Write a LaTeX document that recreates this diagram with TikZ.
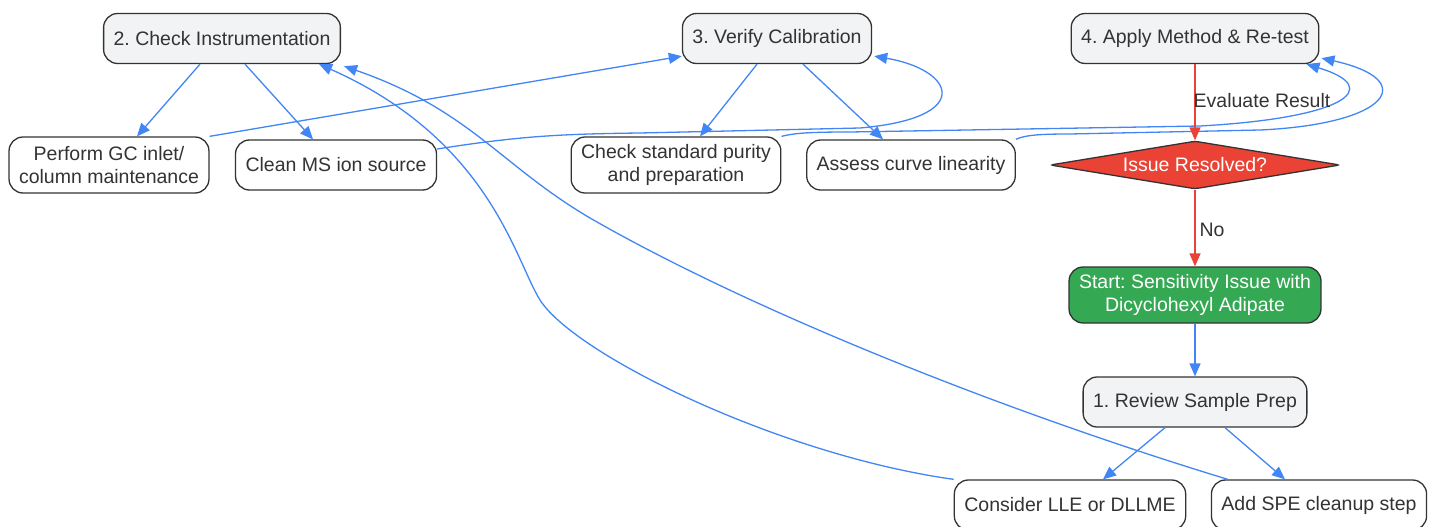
\documentclass[tikz,border=0pt]{standalone}
\usepackage{fontspec}
\setmainfont{Liberation Sans}
\usetikzlibrary{arrows.meta,shapes.geometric}
\definecolor{flowblue}{RGB}{66,133,244}
\definecolor{flowred}{RGB}{234,67,53}
\definecolor{flowgreen}{RGB}{52,168,83}
\definecolor{stepgray}{RGB}{241,243,244}
\definecolor{inkgray}{RGB}{51,51,51}
\frenchspacing

\begin{document}
\begin{tikzpicture}[x=1pt,y=1pt]
    \tikzstyle{every node}+=[font=\fontsize{19.5}{23}\selectfont, text=inkgray]
    \tikzstyle{stepbox}=[draw=inkgray, line width=1.3pt, rounded corners=14pt, fill=stepgray, inner xsep=10pt, minimum height=50pt, align=center]
    \tikzstyle{taskbox}=[stepbox, fill=white]
    \tikzstyle{flow}=[flowblue, line width=1.3pt, -{Triangle[length=13pt,width=11pt]}]
    \tikzstyle{redflow}=[flow, flowred]
    \useasboundingbox (0,0) rectangle (1437,-527);
    \node [stepbox] (check) at (222,-38.5) {2. Check Instrumentation};
    \node [stepbox] (verify) at (777,-38.5) {3. Verify Calibration};
    \node [stepbox] (apply) at (1195,-38.5) {4. Apply Method \& Re-test};
    \node [taskbox, minimum height=56pt] (inlet) at (109,-165) {Perform GC inlet/\\column maintenance};
    \node [taskbox] (source) at (336,-165) {Clean MS ion source};
    \node [taskbox, minimum height=56pt] (purity) at (676,-165) {Check standard purity\\and preparation};
    \node [taskbox] (linear) at (911,-165) {Assess curve linearity};
    \node [draw=inkgray, line width=1.3pt, fill=flowred, text=white, shape=diamond, aspect=6, minimum width=290pt, minimum height=48pt, inner sep=0pt, rounded corners=3pt] (resolved) at (1195,-165) {Issue Resolved?};
    \node [stepbox, fill=flowgreen, text=white, minimum height=56pt] (start) at (1195,-295) {Start: Sensitivity Issue with\\Dicyclohexyl Adipate};
    \node [stepbox] (review) at (1195,-402) {1. Review Sample Prep};
    \node [taskbox] (lle) at (1070,-505) {Consider LLE or DLLME};
    \node [taskbox] (spe) at (1319,-505) {Add SPE cleanup step};
    \draw [flow] (start.south) -- (review.north);
    \draw [flow] ([xshift=-30pt]review.south) -- ([xshift=33pt]lle.north);
    \draw [flow] ([xshift=30pt]review.south) -- ([xshift=-34pt]spe.north);
    \draw [flow] (lle.north west) .. controls (780,-455) and (575,-355) .. (540,-300) .. controls (515,-260) and (490,-140) .. ([xshift=-22pt]check.south east);
    \draw [flow] ([xshift=17pt]spe.north west) .. controls (1000,-410) and (750,-310) .. (590,-218) .. controls (500,-165) and (470,-110) .. ([xshift=3pt,yshift=-2pt]check.south east);
    \draw [flow] ([xshift=-22pt]check.south) -- ([xshift=28pt]inlet.north);
    \draw [flow] ([xshift=23pt]check.south) -- ([xshift=-23pt]source.north);
    \draw [flow] (inlet.north east) -- ([yshift=8pt]verify.south west);
    \draw [flow] ([yshift=16pt]source.east) .. controls (520,-136) and (560,-134) .. (640,-133) -- (860,-128) .. controls (975,-118) and (955,-70) .. ([xshift=2pt,yshift=8pt]verify.south east);
    \draw [flow] ([xshift=-20pt]verify.south) -- ([xshift=24pt]purity.north);
    \draw [flow] ([xshift=26pt]verify.south) -- ([xshift=-28pt]linear.north);
    \draw [flow] (purity.north east) .. controls (795,-133) and (810,-132) .. (850,-132) -- (1200,-126) .. controls (1345,-118) and (1385,-88) .. ([xshift=-13pt]apply.south east);
    \draw [flow] (linear.north east) .. controls (1025,-135) and (1040,-134) .. (1070,-134) -- (1260,-130) .. controls (1390,-124) and (1420,-80) .. ([xshift=2pt,yshift=6pt]apply.south east);
    \draw [redflow] (apply.south) -- (resolved.north);
    \node (evaluate) at (1262,-101) {Evaluate Result};
    \draw [redflow] (resolved.south) -- (start.north);
    \node (no) at (1212,-230) {No};
\end{tikzpicture}
\end{document}
